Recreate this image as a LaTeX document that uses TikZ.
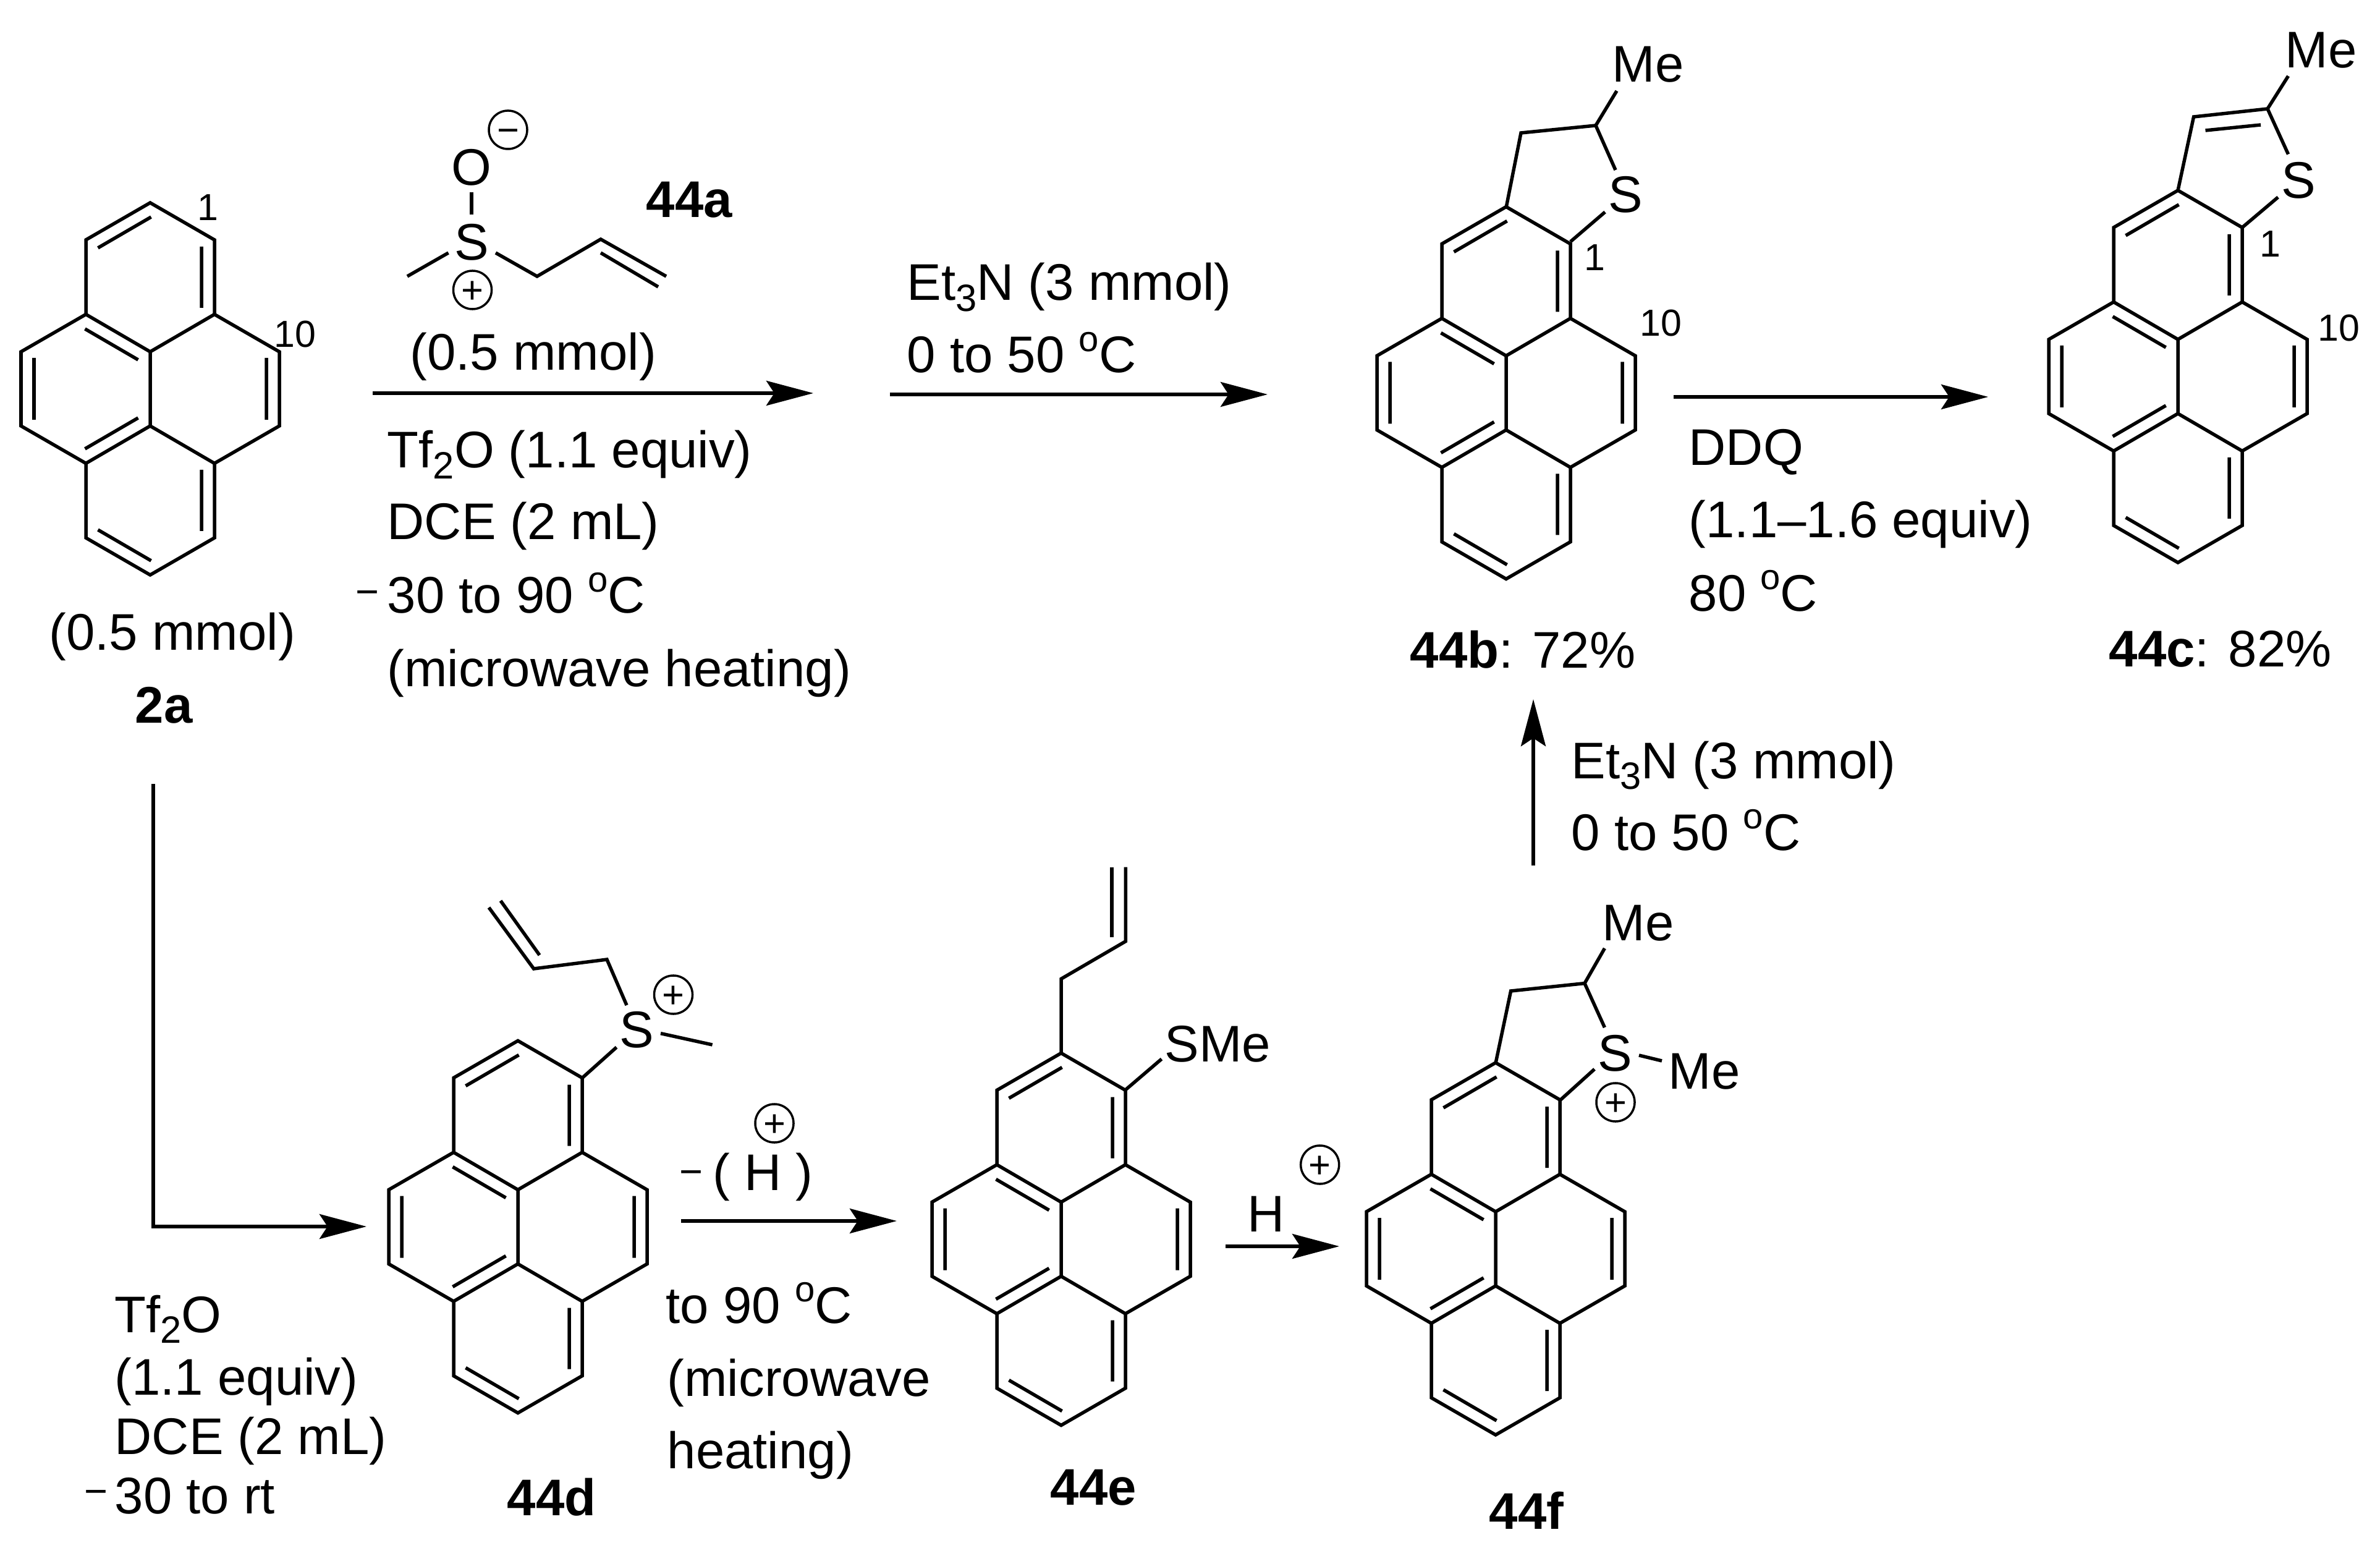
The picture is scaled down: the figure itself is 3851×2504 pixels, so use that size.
\documentclass[tikz,border=0pt]{standalone}
\usepackage{fontspec}
\setmainfont{Liberation Sans}
\usetikzlibrary{arrows.meta}
\newcommand\mainsz{\fontsize{23.7}{28}\selectfont}
\newcommand\smallsz{\fontsize{17.3}{20}\selectfont}
\newcommand\dgo{\raisebox{9.8pt}{\fontsize{16.5}{16.5}\selectfont o}}
\newcommand\subs[1]{\raisebox{-5pt}{\fontsize{17.5}{17.5}\selectfont #1}}
\newcommand\ctr[1]{\raisebox{-.35em}[0pt][0pt]{#1}}
\tikzset{
  bnd/.style={line width=.055cm},
  rx/.style={line width=.055cm,-{Stealth[length=.76cm,width=.40cm,inset=.13cm]}},
  tx/.style={anchor=base west,inner sep=0pt,font=\mainsz,yshift=-.03cm},
  bx/.style={anchor=base west,inner sep=0pt,font=\mainsz\bfseries,yshift=-.03cm},
  nm/.style={anchor=base west,inner sep=0pt,font=\smallsz},
  atm/.style={anchor=center,inner sep=0pt,font=\mainsz},
  chg/.style={circle,draw,line width=.035cm,minimum size=.62cm,inner sep=0pt,font=\fontsize{17.5}{17.5}\selectfont},
  mns/.style={anchor=center,inner sep=0pt,font=\fontsize{18.5}{18.5}\selectfont}
}
\newcommand\pyr[2]{%
\begin{scope}[shift={(#1,#2)}]
\draw[bnd] (0,-301)--(104,-241)--(104,-120.5)--(209,-60)--(209,60)--(104,120.5)--(104,241)--(0,301)--(-104,241)--(-104,120.5)--(-209,60)--(-209,-60)--(-104,-120.5)--(-104,-241)--cycle;
\draw[bnd] (-104,-120.5)--(0,-60)--(0,60)--(-104,120.5) (0,-60)--(104,-120.5) (0,60)--(104,120.5);
\draw[bnd] (-84.5,-228)--(1.5,-278) (83,-230)--(83,-131) (-105.5,-97)--(-19.5,-47) (-188,-50)--(-188,50)
 (-105.5,97)--(-19.5,47) (188,-50)--(188,50) (83,131)--(83,230) (-84.5,228)--(1.5,278);
\end{scope}}
\begin{document}
\begin{tikzpicture}[x=0.01cm,y=-0.01cm]
\useasboundingbox[fill=white] (0,0) rectangle (3851,2504);
% ring systems
\pyr{243}{629}
\pyr{2437}{635.5}
\pyr{3524}{609}
\pyr{838}{1984.5}
\pyr{1717}{2004.5}
\pyr{2420}{2020}
% 2a
\node[nm] (n1a) at (319,357) {1};
\node[nm] (n10a) at (443,562) {10};
\node[tx] (amta) at (79,1049) {(0.5 mmol)};
\node[bx] (lab2a) at (218,1166) {2a};
% 44a
\node[atm] (o44a) at (763,271) {O};
\node[atm] (s44a) at (763,392) {S};
\node[chg] (cm44a) at (822,210) {\ctr{−}};
\node[chg] (cp44a) at (764.5,469) {\ctr{+}};
\draw[bnd] (763,311)--(763,347);
\draw[bnd] (659,447)--(725.5,409);
\draw[bnd] (802,409)--(869,447)--(972,387)--(1078,447);
\draw[bnd] (972,409)--(1065,464);
\node[bx] (lab44a) at (1045,349) {44a};
\node[tx] (amtb) at (663,596) {(0.5 mmol)};
\node[tx] (c1) at (626,754) {Tf\subs{2}O (1.1 equiv)};
\node[tx] (c2) at (626,869) {DCE (2 mL)};
\node[mns] (c3m) at (594,957) {\ctr{−}};
\node[tx] (c3) at (626,989) {30 to 90 \dgo C};
\node[tx] (c4) at (626,1107) {(microwave heating)};
% top arrows
\coordinate (a1s) at (603,636);
\coordinate (a1e) at (1316,636);
\draw[rx] (a1s)--(a1e);
\coordinate (a2s) at (1440,638);
\coordinate (a2e) at (2051,638);
\draw[rx] (a2s)--(a2e);
\node[tx] (d1) at (1467,483) {Et\subs{3}N (3 mmol)};
\node[tx] (d2) at (1467,600) {0 to 50 \dgo C};
\coordinate (a3s) at (2708,642);
\coordinate (a3e) at (3217,642);
\draw[rx] (a3s)--(a3e);
\node[tx] (e1) at (2732,750) {DDQ};
\node[tx] (e2) at (2732,867) {(1.1–1.6 equiv)};
\node[tx] (e3) at (2732,985) {80 \dgo C};
% 44b
\draw[bnd] (2437,336)--(2461,215)--(2582,203)--(2616,147);
\draw[bnd] (2582,203)--(2614,275);
\draw[bnd] (2541,391)--(2597,343);
\node[atm] (s44b) at (2630,315) {S};
\node[tx] (me44b) at (2608,130) {Me};
\node[nm] (n1b) at (2563,438) {1};
\node[nm] (n10b) at (2653,544) {10};
\node[tx] (lab44b) at (2281,1077) {\textbf{44b}: 72\%};
% 44c
\draw[bnd] (3524,308)--(3549.5,189)--(3669,176)--(3702.5,123);
\draw[bnd] (3568.5,211)--(3658,202);
\draw[bnd] (3669,176)--(3702.5,249.5);
\draw[bnd] (3628,368)--(3686,319);
\node[atm] (s44c) at (3719,292) {S};
\node[tx] (me44c) at (3697,107) {Me};
\node[nm] (n1c) at (3655.6,416) {1};
\node[nm] (n10c) at (3750,552) {10};
\node[tx] (lab44c) at (3412,1075) {\textbf{44c}: 82\%};
% 44d
\coordinate (a4s) at (248,1268);
\coordinate (a4e) at (593,1984);
\draw[rx] (a4s) |- (a4e);
\node[tx] (f1) at (185,2152) {Tf\subs{2}O};
\node[tx] (f2) at (185,2253) {(1.1 equiv)};
\node[tx] (f3) at (185,2349) {DCE (2 mL)};
\node[mns] (f4m) at (155,2412) {\ctr{−}};
\node[tx] (f4) at (185,2445) {30 to rt};
\draw[bnd] (942,1743.7)--(997.6,1694);
\draw[bnd] (1014,1626)--(982,1552)--(863.6,1567)--(791,1468);
\draw[bnd] (873,1545)--(810,1457);
\draw[bnd] (1069,1671.6)--(1152.6,1690);
\node[atm] (s44d) at (1030,1666) {S};
\node[chg] (cp44d) at (1089.5,1609) {\ctr{+}};
\node[bx] (lab44d) at (820,2448) {44d};
% d to e
\coordinate (a5s) at (1102,1975);
\coordinate (a5e) at (1451,1975);
\draw[rx] (a5s)--(a5e);
\node[mns] (g0m) at (1118,1894.5) {\ctr{−}};
\node[tx] (g0) at (1153,1922) {( H )};
\node[chg] (cpg) at (1253,1817) {\ctr{+}};
\node[tx] (g1) at (1077,2137) {to 90 \dgo C};
\node[tx] (g2) at (1079,2255) {(microwave};
\node[tx] (g3) at (1079,2372) {heating)};
% 44e
\draw[bnd] (1717,1704)--(1717,1583.4)--(1821.4,1522.6)--(1821.4,1402.6);
\draw[bnd] (1799,1516)--(1799,1402.6);
\draw[bnd] (1821,1763)--(1879.5,1713);
\node[tx] (sme44e) at (1884,1714) {SMe};
\node[bx] (lab44e) at (1699,2431) {44e};
% e to f
\coordinate (a6s) at (1983,2016);
\coordinate (a6e) at (2167,2016);
\draw[rx] (a6s)--(a6e);
\node[tx] (h1) at (2018,1989) {H};
\node[chg] (cph) at (2135.7,1884) {\ctr{+}};
% 44f
\draw[bnd] (2420,1720)--(2444.6,1603)--(2564,1590.6)--(2596.4,1534);
\draw[bnd] (2564,1590.6)--(2596.4,1662);
\draw[bnd] (2524,1780)--(2580,1729.4);
\draw[bnd] (2652,1707)--(2689,1716);
\node[atm] (s44f) at (2613,1704) {S};
\node[tx] (me1f) at (2592,1518) {Me};
\node[tx] (me2f) at (2699,1758) {Me};
\node[chg] (cp44f) at (2614,1783) {\ctr{+}};
\node[bx] (lab44f) at (2409,2470) {44f};
% f to b
\coordinate (a7s) at (2481,1400);
\coordinate (a7e) at (2481,1131);
\draw[rx] (a7s)--(a7e);
\node[tx] (i1) at (2542,1256) {Et\subs{3}N (3 mmol)};
\node[tx] (i2) at (2542,1372) {0 to 50 \dgo C};
\end{tikzpicture}
\end{document}
